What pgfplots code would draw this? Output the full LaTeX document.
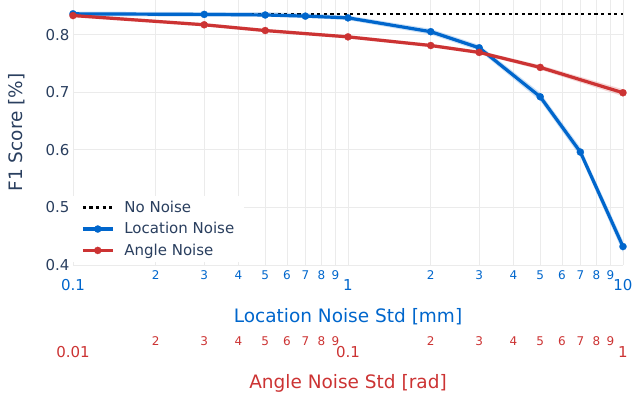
\documentclass[border=0pt]{standalone}
\usepackage{pgfplots}
\pgfplotsset{compat=1.18}
\usepackage{fontspec}
\setmainfont{DejaVu Sans}
\definecolor{locblue}{HTML}{0066CC}
\definecolor{angred}{HTML}{CC3333}
\definecolor{txt}{HTML}{2A3F5F}
\definecolor{gridc}{HTML}{EBEBEB}
\pgfplotsset{
  mylegend/.style={legend image code/.code={%
    \draw[mark repeat=2,mark phase=2,##1] plot coordinates {(0pt,0pt)(15pt,0pt)(30pt,0pt)};}},
}
\begin{document}
\begin{tikzpicture}
\path[use as bounding box] (-73pt,-130pt) rectangle (565pt,265pt);
% ---------- main axis (location noise) ----------
\begin{axis}[
  scale only axis, width=550pt, height=265pt,
  xmode=log, xmin=0.1, xmax=10, ymin=0.4, ymax=0.86,
  axis line style={draw=none},
  major tick length=0pt, minor tick length=0pt,
  xtick={0.1,1,10}, xticklabels={0.1,1,10},
  xticklabel style={anchor=center, yshift=-20pt, font=\fontsize{15}{18}\selectfont, text=locblue},
  extra x ticks={0.2,0.3,0.4,0.5,0.6,0.7,0.8,0.9,2,3,4,5,6,7,8,9},
  extra x tick labels={2,3,4,5,6,7,8,9,2,3,4,5,6,7,8,9},
  extra x tick style={grid=major, xticklabel style={yshift=10pt, font=\fontsize{12}{14}\selectfont}},
  minor x tick num=0,
  ytick={0.4,0.5,0.6,0.7,0.8},
  yticklabel style={font=\fontsize{15}{18}\selectfont, text=txt, /pgf/number format/fixed, /pgf/number format/precision=1},
  /pgf/number format/assume math mode=true,
  grid=major, major grid style={gridc, line width=0.8pt},
  xlabel={Location Noise Std [mm]},
  xlabel style={at={(axis description cs:0.5,0)}, anchor=center, yshift=-52pt, font=\fontsize{18.5}{22}\selectfont, text=locblue},
  ylabel={F1 Score [\%]},
  ylabel style={at={(axis description cs:-0.102,0.5)}, anchor=center, font=\fontsize{18.5}{22}\selectfont, text=txt},
  mylegend,
  legend cell align=left,
  legend style={at={(axis description cs:0,0.011)}, anchor=south west, draw=none, fill=white,
    font=\fontsize{15}{18}\selectfont, text=txt, row sep=4.5pt, inner xsep=8pt, inner ysep=3pt,
    /tikz/every odd column/.append style={column sep=8pt}},
]
\addplot[black, line width=2.3pt, dash pattern=on 3.3pt off 3.3pt, forget plot] coordinates {(0.1,0.836)(10,0.836)};
\addlegendimage{black, line width=2.3pt, dash pattern=on 3.3pt off 3.3pt}
\addlegendentry{No Noise}
\addplot[draw=none, fill=locblue, fill opacity=0.2, forget plot] coordinates {
 (0.1,0.840)(0.3,0.839)(0.5,0.839)(0.7,0.837)(1,0.833)(2,0.810)(3,0.782)(5,0.699)(7,0.604)(10,0.442)
 (10,0.422)(7,0.588)(5,0.685)(3,0.772)(2,0.800)(1,0.825)(0.7,0.829)(0.5,0.831)(0.3,0.831)(0.1,0.832)} -- cycle;
\addplot[locblue, line width=3.2pt, mark=*, mark size=3.6pt, mark options={solid, line width=0.2pt}] coordinates {
 (0.1,0.836)(0.3,0.835)(0.5,0.834)(0.7,0.832)(1,0.829)(2,0.805)(3,0.777)(5,0.692)(7,0.596)(10,0.432)};
\addlegendentry{Location Noise}
\addlegendimage{angred, line width=3.2pt, mark=*, mark size=3.6pt, mark options={solid, line width=0.2pt}}
\addlegendentry{Angle Noise}
\end{axis}
% ---------- secondary axis (angle noise) ----------
\begin{axis}[
  scale only axis, width=550pt, height=265pt,
  xmode=log, xmin=0.01, xmax=1, ymin=0.4, ymax=0.86,
  axis line style={draw=none},
  major tick length=0pt, minor tick length=0pt,
  ytick=\empty,
  xtick={0.01,0.1,1}, xticklabels={0.01,0.1,1},
  xticklabel style={anchor=center, yshift=-87pt, font=\fontsize{15}{18}\selectfont, text=angred},
  extra x ticks={0.02,0.03,0.04,0.05,0.06,0.07,0.08,0.09,0.2,0.3,0.4,0.5,0.6,0.7,0.8,0.9},
  extra x tick labels={2,3,4,5,6,7,8,9,2,3,4,5,6,7,8,9},
  extra x tick style={xticklabel style={yshift=11pt, font=\fontsize{12}{14}\selectfont}},
  minor x tick num=0,
  xlabel={Angle Noise Std [rad]},
  xlabel style={at={(axis description cs:0.5,0)}, anchor=center, yshift=-118pt, font=\fontsize{18.5}{22}\selectfont, text=angred},
]
\addplot[draw=none, fill=angred, fill opacity=0.2, forget plot] coordinates {
 (0.01,0.836)(0.03,0.820)(0.05,0.810)(0.1,0.799)(0.2,0.784)(0.3,0.772)(0.5,0.747)(1,0.705)
 (1,0.693)(0.5,0.739)(0.3,0.766)(0.2,0.778)(0.1,0.793)(0.05,0.804)(0.03,0.814)(0.01,0.830)} -- cycle;
\addplot[angred, line width=3.2pt, mark=*, mark size=3.6pt, mark options={solid, line width=0.2pt}] coordinates {
 (0.01,0.833)(0.03,0.817)(0.05,0.807)(0.1,0.796)(0.2,0.781)(0.3,0.769)(0.5,0.743)(1,0.699)};
\end{axis}
\end{tikzpicture}
\end{document}
